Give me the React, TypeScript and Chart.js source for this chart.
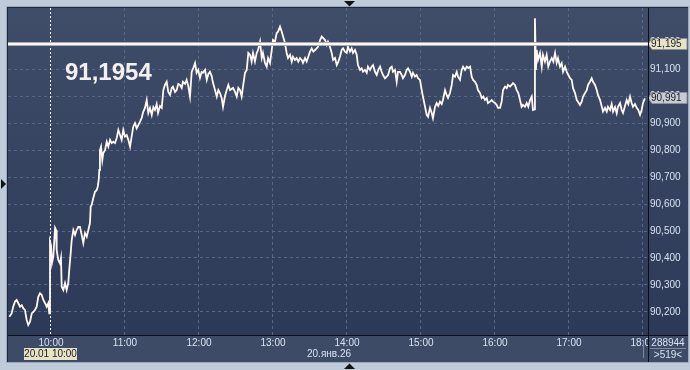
import React, { useEffect, useRef } from "react";
import { Chart, registerables } from "chart.js";
Chart.register(...registerables);

// time in minutes after midnight (600 = 10:00), price values
const times = [
  567.0, 568.9, 570.2, 571.6, 573.0, 574.3, 575.7, 577.1, 578.4, 579.7, 581.1, 582.4, 583.8, 585.2, 586.5, 587.8, 589.2, 590.5, 591.9, 593.3, 594.6, 596.0, 597.3, 598.6, 599.4,
  600.0, 600.8, 601.6, 602.7, 604.1, 604.9, 605.4, 606.7, 608.1, 608.9, 609.5, 610.8, 612.2, 613.5, 614.8, 615.6, 616.8, 617.6, 618.9, 620.3, 621.6, 623.0, 624.3, 625.7, 627.0, 628.4, 629.8, 631.1, 632.4, 633.0, 633.8, 635.1, 636.5, 637.9, 638.7, 639.5, 640.0, 640.5, 641.4, 642.4, 643.2, 644.6, 646.0, 647.3, 648.7, 650.0, 651.3, 652.7, 654.1, 655.4, 656.8, 658.1, 659.4, 660.8, 662.2, 663.5, 664.9, 666.2, 667.5, 668.9, 670.3, 671.6, 673.0,
  674.3, 675.6, 677.0, 678.4, 679.7, 681.1, 682.5, 683.8, 685.1, 686.5, 687.6, 689.2, 690.6, 691.9, 693.2, 694.6, 695.9, 697.3, 698.7, 699.7, 701.4, 702.7, 704.0, 705.4, 706.8, 707.8, 709.5, 710.8, 712.1, 713.5, 714.9, 716.2, 717.6, 718.9, 720.2, 721.6, 722.9, 724.0, 725.7, 727.1, 728.4, 729.7, 731.1, 732.2, 733.8, 735.2, 736.5, 737.8, 739.2, 740.3, 741.9, 743.3, 744.6, 746.0, 748.4, 750.0, 751.4, 752.7, 754.1, 755.4, 756.5, 758.1, 759.5, 760.8, 762.2, 763.5, 764.6, 766.2, 767.6, 768.7, 770.3, 771.7, 772.7, 774.3, 775.7, 776.8, 778.4, 779.8, 780.8, 782.4, 783.8, 784.9, 786.5, 787.9, 789.0, 790.5, 791.9, 793.0, 794.6, 796.0, 797.0, 798.6, 800.0,
  801.3, 802.7, 804.1, 805.1, 806.8, 808.1, 809.4, 810.8, 812.2, 813.5, 814.9, 816.2, 817.3, 819.0, 820.3, 821.6, 823.0, 824.4, 825.4, 827.0, 828.4, 829.5, 831.1, 832.5, 833.8, 835.1, 836.5, 837.6, 839.2, 840.6, 841.6, 843.2, 844.6, 845.7, 847.3, 848.7, 849.7, 851.4, 852.7, 853.8, 855.4, 856.8, 857.8, 859.5, 860.8, 861.9, 863.5, 864.9, 866.2, 867.6, 868.9, 870.0, 871.6, 873.0, 874.1, 875.7, 877.1, 878.1, 879.7, 881.1, 882.2, 883.8, 885.2, 886.2, 887.8, 889.2, 890.3, 891.9, 893.3, 894.3, 895.9, 897.3, 898.4, 900.0,
  901.4, 902.4, 904.1, 905.4, 906.5, 908.1, 909.5, 910.5, 912.2, 913.5, 914.8, 916.2, 917.6, 918.6, 920.3, 921.6, 922.7, 924.3, 925.7, 926.8, 928.4, 929.8, 930.8, 932.4, 933.8, 934.9, 936.5, 937.9, 939.2, 940.6, 941.9, 943.0, 944.6, 946.0, 947.0, 948.7, 950.0, 951.3, 952.7, 954.1, 955.1, 956.8, 958.1, 959.2, 960.8, 962.2, 963.2, 964.9, 966.2, 967.3, 968.9, 970.3, 971.3, 973.0, 974.3, 975.4, 977.0, 978.4, 979.7, 981.1, 982.4, 983.5, 985.1, 986.5, 987.8, 989.2, 990.6, 991.6, 992.9, 993.2, 994.0, 994.6, 995.7, 997.3, 998.7, 999.7,
  1001.3, 1002.7, 1004.0, 1005.4, 1006.8, 1008.1, 1009.5, 1010.8, 1011.9, 1013.5, 1014.9, 1016.0, 1017.6, 1019.0, 1020.3, 1021.6, 1023.0, 1024.1, 1025.7, 1027.1, 1028.1, 1029.7, 1031.1, 1032.2, 1033.8, 1035.2, 1036.2, 1037.8, 1039.2, 1040.3, 1041.9, 1043.3, 1044.3, 1046.0, 1047.4, 1048.4, 1050.0, 1051.4, 1052.4, 1054.1, 1055.4, 1056.5, 1058.1, 1059.5, 1060.5, 1062.2, 1063.5, 1064.6, 1066.2, 1067.6, 1068.9, 1070.3, 1071.6, 1072.7, 1074.3, 1075.7, 1077.0, 1078.4, 1079.7, 1080.8, 1082.4,
];
const values = [
  90.180, 90.192, 90.217, 90.236, 90.242, 90.230, 90.217, 90.223, 90.211, 90.205, 90.168, 90.149, 90.161, 90.192, 90.198, 90.205, 90.217, 90.254, 90.267, 90.261, 90.242, 90.230, 90.217, 90.230, 90.192,
  90.459, 90.446, 90.379, 90.403, 90.510, 90.502, 90.428, 90.391, 90.378, 90.398, 90.291, 90.279, 90.305, 90.279, 90.305, 90.353, 90.417, 90.465, 90.502, 90.484, 90.502, 90.514, 90.514, 90.484, 90.454, 90.491, 90.477, 90.502, 90.528, 90.589, 90.595, 90.621, 90.644, 90.651, 90.663, 90.688, 90.725, 90.799, 90.812, 90.762, 90.788, 90.799, 90.830, 90.812, 90.837, 90.825, 90.830, 90.825, 90.844, 90.874, 90.855, 90.837, 90.874, 90.849, 90.855, 90.837, 90.812, 90.849, 90.886, 90.899, 90.880, 90.892, 90.905,
  90.918, 90.941, 90.956, 90.985, 90.937, 90.956, 90.930, 90.959, 90.948, 90.970, 90.937, 90.963, 90.956, 91.022, 91.041, 91.053, 91.015, 91.004, 91.030, 91.035, 91.015, 91.022, 91.045, 91.041, 91.030, 91.053, 91.045, 91.060, 91.037, 90.998, 91.090, 91.104, 91.122, 91.086, 91.097, 91.067, 91.089, 91.086, 91.097, 91.060, 91.082, 91.090, 91.074, 91.048, 91.022, 90.998, 91.022, 91.011, 90.993, 90.960, 91.000, 91.022, 91.041, 91.022, 91.030, 91.015, 90.998, 91.030, 91.022, 90.998, 91.035, 91.086, 91.097, 91.160, 91.153, 91.128, 91.160, 91.128, 91.160, 91.171, 91.202, 91.141, 91.160, 91.123, 91.109, 91.141, 91.123, 91.171, 91.208, 91.202, 91.234, 91.239, 91.258, 91.239, 91.221, 91.197, 91.160, 91.141, 91.153, 91.128, 91.146, 91.134, 91.141,
  91.128, 91.141, 91.134, 91.123, 91.141, 91.128, 91.146, 91.165, 91.177, 91.165, 91.171, 91.177, 91.183, 91.208, 91.221, 91.215, 91.208, 91.190, 91.202, 91.183, 91.160, 91.134, 91.141, 91.115, 91.128, 91.146, 91.171, 91.177, 91.165, 91.160, 91.183, 91.165, 91.177, 91.160, 91.171, 91.153, 91.115, 91.097, 91.103, 91.090, 91.097, 91.086, 91.109, 91.097, 91.109, 91.115, 91.090, 91.078, 91.097, 91.109, 91.090, 91.078, 91.066, 91.072, 91.078, 91.103, 91.109, 91.090, 91.097, 91.053, 91.090, 91.090, 91.078, 91.066, 91.078, 91.097, 91.103, 91.090, 91.072, 91.086, 91.072, 91.078, 91.066, 91.060,
  91.022, 90.998, 90.960, 90.930, 90.923, 90.956, 90.937, 90.918, 90.960, 90.974, 90.963, 90.979, 90.970, 90.985, 91.022, 91.004, 90.993, 91.011, 91.041, 91.078, 91.072, 91.090, 91.072, 91.060, 91.097, 91.109, 91.097, 91.109, 91.104, 91.109, 91.072, 91.060, 91.053, 91.041, 91.022, 91.011, 90.992, 90.998, 90.985, 90.992, 90.974, 90.979, 90.985, 90.979, 90.974, 90.967, 90.956, 90.956, 90.979, 91.022, 91.035, 91.029, 91.041, 91.035, 91.041, 91.048, 91.041, 91.022, 91.011, 90.985, 90.960, 90.967, 90.960, 90.974, 90.960, 90.985, 90.998, 90.948, 90.950, 91.289, 91.097, 91.171, 91.134, 91.160, 91.109, 91.153,
  91.128, 91.153, 91.109, 91.128, 91.141, 91.128, 91.160, 91.123, 91.141, 91.109, 91.122, 91.090, 91.109, 91.090, 91.078, 91.066, 91.060, 91.029, 91.011, 90.985, 90.979, 90.967, 90.979, 90.998, 91.011, 91.022, 91.041, 91.053, 91.066, 91.053, 91.041, 91.022, 91.004, 90.985, 90.960, 90.942, 90.956, 90.942, 90.960, 90.948, 90.970, 90.942, 90.959, 90.936, 90.960, 90.974, 90.948, 90.937, 90.963, 90.985, 90.970, 90.998, 90.974, 90.960, 90.970, 90.956, 90.948, 90.930, 90.948, 90.974, 90.991,
];

const hourTicks = [600, 660, 720, 780, 840, 900, 960, 1020, 1080];
const hourLabels = ["10:00", "11:00", "12:00", "13:00", "14:00", "15:00", "16:00", "17:00", "18:00"];
const priceTicks = [90.2, 90.3, 90.4, 90.5, 90.6, 90.7, 90.8, 90.9, 91.0, 91.1, 91.2];
const priceLabels = ["90,200", "90,300", "90,400", "90,500", "90,600", "90,700", "90,800", "90,900", "91,000", "91,100", "91,200"];

const markLevel = 91.195;
const markLabel = "91,195";
const lastPrice = 90.991;
const lastLabel = "90,991";
const bigLabel = "91,1954";
const cursorTime = 600;
const cursorLabel = "20.01 10:00";
const dateLabel = "20.янв.26";
const volumeLabel = "288944";
const countLabel = ">519<";

const X_MIN = 565.95;
const X_MAX = 1084.86;
const Y_MIN = 90.112;
const Y_MAX = 91.327;

const FONT = '"Liberation Sans", Arial, sans-serif';

const terminalPlugin = {
  id: "terminal",
  beforeDraw(chart: any) {
    const { ctx, chartArea: a, scales } = chart;
    const x = scales.x, y = scales.y;
    const W = chart.width, H = chart.height;
    const R = 688, B = 362;
    ctx.save();
    ctx.fillStyle = "#bfcbd9";
    ctx.fillRect(0, 0, W, H);
    ctx.fillStyle = "#9ea9b9";
    ctx.fillRect(6, 6, R - 6 + 1, B - 6 + 1);
    const g = ctx.createLinearGradient(0, a.top, 0, a.bottom);
    g.addColorStop(0, "#3f4d69");
    g.addColorStop(1, "#2c3957");
    ctx.fillStyle = g;
    ctx.fillRect(a.left, a.top, R - a.left, a.bottom - a.top);
    ctx.fillStyle = "#3e4b66";
    ctx.fillRect(a.left, a.bottom, R - a.left, B - a.bottom);
    // dark top/left edge
    ctx.fillStyle = "#1f2840";
    ctx.fillRect(7, 7, R - 7, 1);
    ctx.fillRect(7, 7, 1, B - 7);

    // grid
    ctx.save();
    ctx.beginPath();
    ctx.rect(a.left, a.top, a.right - a.left, a.bottom - a.top);
    ctx.clip();
    ctx.strokeStyle = "#56678a";
    ctx.lineWidth = 1;
    ctx.setLineDash([3, 3]);
    for (const t of hourTicks) {
      if (t === cursorTime) continue;
      const px = Math.round(x.getPixelForValue(t)) + 0.5;
      ctx.beginPath();
      ctx.moveTo(px, a.top);
      ctx.lineTo(px, a.bottom);
      ctx.stroke();
    }
    for (const v of priceTicks) {
      const py = Math.round(y.getPixelForValue(v)) + 0.5;
      ctx.beginPath();
      ctx.moveTo(a.left, py);
      ctx.lineTo(a.right, py);
      ctx.stroke();
    }
    // cursor
    ctx.strokeStyle = "#ffffff";
    ctx.setLineDash([2, 2]);
    const cx = Math.round(x.getPixelForValue(cursorTime)) + 0.5;
    ctx.beginPath();
    ctx.moveTo(cx, a.top);
    ctx.lineTo(cx, a.bottom);
    ctx.stroke();
    ctx.restore();
    ctx.restore();
  },
  afterDatasetsDraw(chart: any) {
    const { ctx, chartArea: a, scales } = chart;
    const x = scales.x, y = scales.y;
    const R = 688, B = 362;
    ctx.save();
    // mark level line
    const my = Math.round(y.getPixelForValue(markLevel));
    ctx.fillStyle = "#a9acb6";
    ctx.fillRect(a.left, my - 2, a.right - a.left, 4);
    ctx.fillStyle = "#fbf8f4";
    ctx.fillRect(a.left, my - 1, a.right - a.left, 2);

    // big label
    ctx.fillStyle = "#f3f0ee";
    ctx.font = "bold 24px " + FONT;
    ctx.textAlign = "left";
    ctx.textBaseline = "alphabetic";
    ctx.fillText(bigLabel, 65, 80);

    // right axis labels
    ctx.font = "10px " + FONT;
    ctx.fillStyle = "#d8e2f2";
    ctx.textBaseline = "middle";
    for (let i = 0; i < priceTicks.length; i++) {
      const py = y.getPixelForValue(priceTicks[i]);
      if (py < a.top + 4 || py > a.bottom - 4) continue;
      ctx.fillText(priceLabels[i], 650, py + 0.5);
    }

    // boxes
    const box = (val: number, label: string, fill: string) => {
      const py = Math.round(y.getPixelForValue(val));
      ctx.beginPath();
      ctx.moveTo(a.right, py);
      ctx.lineTo(a.right + 4, py - 5.5);
      ctx.lineTo(R - 1, py - 5.5);
      ctx.lineTo(R - 1, py + 5.5);
      ctx.lineTo(a.right + 4, py + 5.5);
      ctx.closePath();
      ctx.fillStyle = fill;
      ctx.fill();
      ctx.strokeStyle = "#8a8f99";
      ctx.lineWidth = 1;
      ctx.stroke();
      ctx.fillStyle = "#1a1a22";
      ctx.font = "10px " + FONT;
      ctx.textAlign = "left";
      ctx.textBaseline = "middle";
      ctx.fillText(label, 651, py + 0.5);
    };
    box(markLevel, markLabel, "#e7e4c6");
    box(lastPrice, lastLabel, "#c7ccd4");

    // bottom axis labels
    ctx.save();
    ctx.beginPath();
    ctx.rect(a.left, a.bottom, a.right - a.left, B - a.bottom);
    ctx.clip();
    ctx.fillStyle = "#d8e2f2";
    ctx.font = "10px " + FONT;
    ctx.textAlign = "center";
    ctx.textBaseline = "middle";
    for (let i = 0; i < hourTicks.length; i++) {
      const px = x.getPixelForValue(hourTicks[i]);
      ctx.fillText(hourLabels[i], px + 1, a.bottom + 8.5);
    }
    ctx.fillText(dateLabel, (a.left + a.right) / 2 + 1, a.bottom + 19.5);
    ctx.restore();

    // small separator near right end of time axis
    ctx.fillStyle = "#7d889c";
    ctx.fillRect(643, a.bottom + 5, 1, 18);

    // cursor time box
    const cx = x.getPixelForValue(cursorTime);
    ctx.fillStyle = "#e7e4c6";
    ctx.fillRect(cx - 26, a.bottom + 13, 53, 12);
    ctx.fillStyle = "#1a1a22";
    ctx.font = "10px " + FONT;
    ctx.textAlign = "center";
    ctx.fillText(cursorLabel, cx + 0.5, a.bottom + 19.5);

    // bottom-right info
    ctx.fillStyle = "#d8e2f2";
    ctx.textAlign = "center";
    ctx.fillText(volumeLabel, 668, a.bottom + 8.5);
    ctx.fillText(countLabel, 668, a.bottom + 20.5);
    ctx.fillStyle = "#7d889c";
    ctx.fillRect(650, a.bottom + 13, 36, 1);

    // axis lines
    ctx.fillStyle = "#0b0e16";
    ctx.fillRect(a.right, a.top, 1, B - a.top);
    ctx.fillRect(a.left, a.bottom, R - a.left, 1);

    // triangles
    ctx.fillStyle = "#101318";
    ctx.beginPath();
    ctx.moveTo(344, 1); ctx.lineTo(355, 1); ctx.lineTo(349.5, 6.5); ctx.closePath(); ctx.fill();
    ctx.beginPath();
    ctx.moveTo(344, 369); ctx.lineTo(355, 369); ctx.lineTo(349.5, 363.5); ctx.closePath(); ctx.fill();
    ctx.beginPath();
    ctx.moveTo(1, 179); ctx.lineTo(1, 189); ctx.lineTo(6, 184); ctx.closePath(); ctx.fill();
    ctx.restore();
  },
};

export default function App() {
  const ref = useRef<HTMLCanvasElement | null>(null);
  useEffect(() => {
    if (!ref.current) return;
    const data = times.map((t, i) => ({ x: t, y: values[i] }));
    const chart = new Chart(ref.current, {
      type: "line",
      data: {
        datasets: [
          {
            data,
            borderColor: "#fff8f2",
            borderWidth: 1.8,
            pointRadius: 0,
            tension: 0,
            fill: false,
          },
        ],
      },
      options: {
        responsive: false,
        animation: false,
        events: [],
        layout: { padding: { left: 8, top: 8, right: 42, bottom: 35 } },
        plugins: { legend: { display: false }, tooltip: { enabled: false } },
        scales: {
          x: { type: "linear", min: X_MIN, max: X_MAX, display: false },
          y: { type: "linear", min: Y_MIN, max: Y_MAX, display: false },
        },
      },
      plugins: [terminalPlugin],
    });
    return () => chart.destroy();
  }, []);
  return (
    <div style={{ position: "absolute", left: 0, top: 0, width: 690, height: 370 }}>
      <canvas ref={ref} width={690} height={370} style={{ display: "block", width: 690, height: 370 }} />
    </div>
  );
}
